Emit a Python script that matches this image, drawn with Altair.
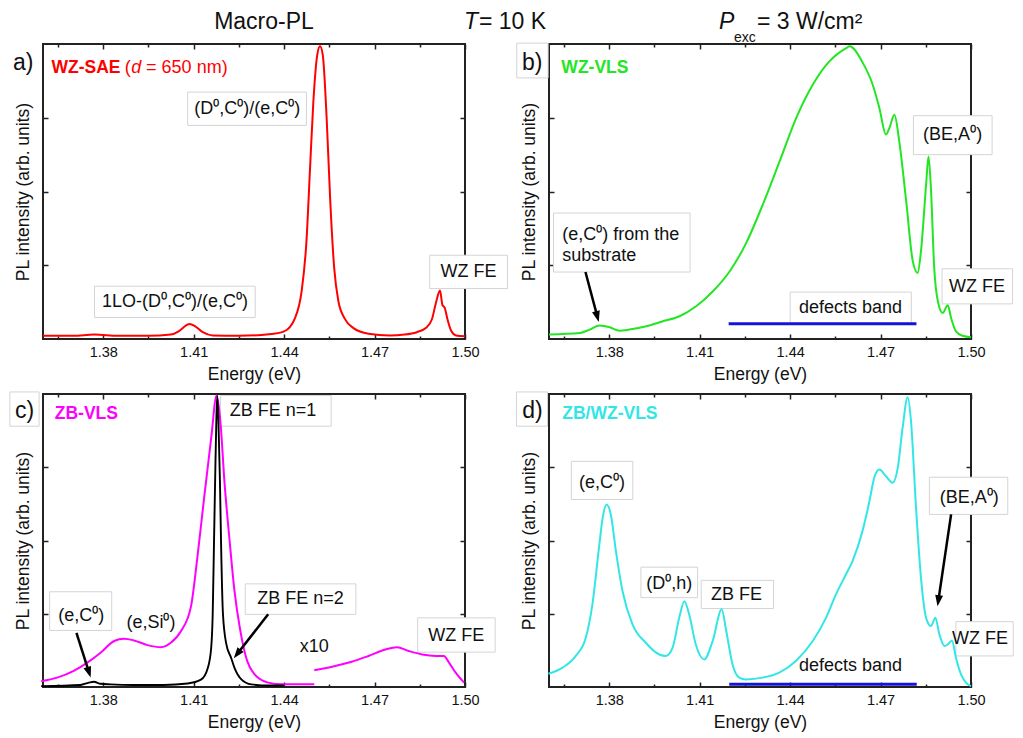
import math
import altair as alt
import pandas as pd

FONT = "Liberation Sans"
W = 422
H_TOP = 295
H_BOT = 293
XDOM = [1.36, 1.50]
YDOM = [0, 100]
X_TICKS = [1.365, 1.38, 1.395, 1.41, 1.425, 1.44, 1.455, 1.47, 1.485, 1.50]
Y_TICKS = [25, 50, 75]
MINOR_TEST = "(round(datum.value * 1000) - 1380) % 30 != 0"

RED = "#ff0000"
GREEN = "#22e622"
MAGENTA = "#ff00ff"
CYAN = "#33e6e6"
BLUE = "#1414d9"
BOXLINE = "#d4d4d4"
INK = "#111111"

# ---------------- panel a : WZ-SAE ----------------
a_energy = [1.360, 1.370, 1.377, 1.385, 1.395, 1.4024, 1.405, 1.4075, 1.4086, 1.4105,
            1.413, 1.4163, 1.425, 1.435, 1.440, 1.4436, 1.4458, 1.4474, 1.4486, 1.4497,
            1.451, 1.4519, 1.4528, 1.4541, 1.4553, 1.4566, 1.458, 1.460, 1.463, 1.468,
            1.475, 1.480, 1.484, 1.487, 1.489, 1.4905, 1.4917, 1.4925, 1.4933, 1.4942,
            1.4955, 1.497, 1.500]
a_intensity = [1.1, 1.1, 1.5, 1.1, 1.1, 1.5, 2.6, 4.6, 5.1, 4.3,
               2.3, 1.2, 1.1, 1.6, 2.6, 7.1, 16.2, 33.1, 58.0, 80.6,
               96.4, 99.2, 96.4, 74.9, 46.7, 24.1, 12.8, 7.1, 3.7, 1.8,
               1.2, 1.5, 2.3, 3.7, 6.6, 12.8, 16.4, 11.6, 10.5, 6.6,
               2.6, 1.2, 0.9]
a_text = ["(D⁰,C⁰)/(e,C⁰)", "1LO-(D⁰,C⁰)/(e,C⁰)", "WZ FE"]
a_text_x = [1.4278, 1.4038, 1.5012]
a_text_y = [78.0, 12.4, 22.6]
a_box_x1 = [1.4080, 1.3771, 1.4883]
a_box_x2 = [1.4474, 1.4304, 1.5141]
a_box_y1 = [72.4, 7.3, 17.1]
a_box_y2 = [83.7, 17.9, 28.4]

# ---------------- panel b : WZ-VLS ----------------
b_energy = [1.3600, 1.3702, 1.3735, 1.3768, 1.3801, 1.3834, 1.3867, 1.3923, 1.3978, 1.4033,
            1.4088, 1.4144, 1.4199, 1.4254, 1.4309, 1.4365, 1.4420, 1.4475, 1.4530, 1.4586,
            1.4597, 1.4641, 1.4674, 1.4696, 1.4718, 1.4729, 1.4746, 1.4762, 1.4785, 1.4807,
            1.4823, 1.4834, 1.4851, 1.4859, 1.4867, 1.4878, 1.4890, 1.4906, 1.4923, 1.4934,
            1.4950, 1.4972, 1.5000]
b_intensity = [1.5, 2.0, 3.2, 4.6, 4.0, 2.8, 3.2, 4.3, 6.0, 7.7,
               11.1, 16.2, 22.9, 32.5, 45.5, 60.2, 74.9, 86.2, 94.1, 98.6,
               99.2, 93.6, 86.2, 78.3, 69.3, 71.5, 76.0, 67.0, 46.7, 26.3,
               22.4, 29.7, 52.3, 61.9, 51.2, 24.1, 12.8, 8.8, 11.4, 7.1,
               2.6, 1.1, 0.6]
b_text = ["(BE,A⁰)", "WZ FE", "defects band"]
b_text_x = [1.4939, 1.5020, 1.4600]
b_text_y = [69.3, 17.6, 10.4]
b_left_text = ["(e,C⁰) from the", "substrate"]
b_left_x = [1.3644, 1.3644]
b_left_y = [35.4, 28.0]
b_box_x1 = [1.3493, 1.3615, 1.4809, 1.4904, 1.4400]
b_box_x2 = [1.3597, 1.4068, 1.5070, 1.5138, 1.4802]
b_box_y1 = [88.5, 22.7, 62.5, 11.9, 5.4]
b_box_y2 = [100.3, 42.7, 75.7, 23.8, 15.9]
b_band_x = [1.4196, 1.4819]
b_band_y = [5.2, 5.2]
b_arrow = [[1.3721, 22.7, 1.3765, 5.8]]

# ---------------- panel c : ZB-VLS ----------------
c_mag_energy = [1.3594, 1.3647, 1.3702, 1.3747, 1.3791, 1.3836, 1.3869, 1.3902, 1.3947, 1.3991,
                1.4024, 1.4058, 1.4091, 1.4113, 1.4135, 1.4158, 1.4176, 1.4189, 1.4202, 1.4219,
                1.4235, 1.4255, 1.4277, 1.4302, 1.4347, 1.4391, 1.4450, 1.4500]
c_mag_intensity = [2.0, 3.2, 5.5, 8.3, 11.7, 15.7, 16.5, 15.9, 14.3, 13.6,
                   15.1, 19.1, 27.5, 45.0, 65.0, 85.0, 99.5, 90.0, 70.0, 50.0,
                   33.0, 19.0, 9.0, 4.3, 1.5, 0.9, 0.9, 0.9]
c_x10_energy = [1.4500, 1.4569, 1.4624, 1.4680, 1.4736, 1.4774, 1.4813, 1.4858, 1.4902, 1.4930,
                1.4947, 1.4969, 1.4997]
c_x10_intensity = [5.7, 7.2, 8.6, 10.6, 12.8, 13.6, 12.3, 11.1, 10.6, 10.6,
                   8.3, 4.9, 1.5]
c_blk_energy = [1.3594, 1.3724, 1.3752, 1.3769, 1.3791, 1.3824, 1.3900, 1.4000, 1.4080, 1.4124,
                1.4147, 1.4158, 1.4163, 1.4167, 1.4171, 1.4175, 1.4178, 1.4182, 1.4187, 1.4191,
                1.4197, 1.4208, 1.4224, 1.4235, 1.4258, 1.4291, 1.4350, 1.4400]
c_blk_intensity = [0.3, 0.7, 1.5, 1.8, 1.1, 0.9, 0.7, 0.7, 1.2, 2.5,
                   6.6, 13.4, 24.9, 47.6, 70.3, 90.8, 99.3, 90.8, 70.3, 47.6,
                   24.9, 14.7, 10.0, 6.6, 2.6, 0.9, 0.5, 0.5]
c_text = ["ZB FE n=1", "ZB FE n=2", "(e,C⁰)", "(e,Si⁰)", "x10", "WZ FE"]
c_text_x = [1.4363, 1.4454, 1.3727, 1.3958, 1.4500, 1.4971]
c_text_y = [94.1, 29.9, 24.4, 21.9, 13.6, 17.4]
c_box_x1 = [1.3490, 1.4189, 1.4271, 1.3622, 1.4843]
c_box_x2 = [1.3587, 1.4556, 1.4638, 1.3828, 1.5100]
c_box_y1 = [89.0, 89.0, 24.8, 19.3, 11.9]
c_box_y2 = [100.7, 99.5, 35.2, 32.5, 23.6]
c_arrow = [[1.3711, 18.5, 1.3758, 3.2], [1.4347, 24.8, 1.4233, 9.8]]

# ---------------- panel d : ZB/WZ-VLS ----------------
d_energy = [1.3598, 1.3645, 1.3689, 1.3722, 1.3744, 1.3767, 1.3778, 1.3791, 1.3805, 1.3822,
            1.3844, 1.3877, 1.3921, 1.3966, 1.3988, 1.4010, 1.4032, 1.4049, 1.4065, 1.4087,
            1.4115, 1.4143, 1.4173, 1.4188, 1.4209, 1.4231, 1.4253, 1.4309, 1.4364, 1.4419,
            1.4475, 1.4519, 1.4552, 1.4585, 1.4607, 1.4640, 1.4663, 1.4679, 1.4696, 1.4718,
            1.4740, 1.4757, 1.4773, 1.4790, 1.4801, 1.4817, 1.4834, 1.4851, 1.4867, 1.4882,
            1.4895, 1.4912, 1.4923, 1.4937, 1.4950, 1.4967, 1.4983, 1.5000]
d_intensity = [4.5, 6.6, 10.6, 16.8, 28.2, 48.6, 57.7, 62.3, 58.9, 46.4,
               32.7, 21.4, 15.1, 11.1, 10.6, 13.4, 23.6, 29.3, 24.8, 14.5,
               9.4, 15.7, 26.5, 19.1, 7.7, 3.2, 2.6, 3.2, 4.9, 8.9,
               15.7, 23.6, 31.6, 38.4, 43.0, 53.2, 63.4, 71.4, 74.2, 71.9,
               69.7, 74.8, 88.4, 98.9, 90.7, 62.3, 37.3, 23.6, 20.8, 23.6,
               18.0, 14.0, 14.5, 15.9, 10.0, 4.3, 1.5, 0.3]
d_text = ["(e,C⁰)", "(D⁰,h)", "ZB FE", "(BE,A⁰)", "WZ FE", "defects band"]
d_text_x = [1.3776, 1.3999, 1.4222, 1.4994, 1.5030, 1.4600]
d_text_y = [69.7, 35.0, 31.4, 64.5, 16.3, 7.2]
d_box_x1 = [1.3492, 1.3674, 1.3905, 1.4105, 1.4862, 1.4950]
d_box_x2 = [1.3595, 1.3878, 1.4093, 1.4345, 1.5122, 1.5140]
d_box_y1 = [89.0, 64.0, 30.5, 26.8, 58.9, 10.6]
d_box_y2 = [100.7, 77.0, 40.9, 36.4, 71.6, 22.3]
d_band_x = [1.4198, 1.4820]
d_band_y = [0.9, 0.9]
d_arrow = [[1.4934, 58.9, 1.4889, 27.6]]

# panel tags and sample names
tag_text = ["a)", "b)", "c)", "d)"]
tag_x = [1.3534, 1.3544, 1.3539, 1.3545]
tag_y = [93.6, 93.6, 94.2, 94.2]
name_text = ["WZ-SAE", "WZ-VLS", "ZB-VLS", "ZB/WZ-VLS"]
name_x = [1.3628, 1.3641, 1.3639, 1.3644]
name_y = [91.7, 91.9, 93.1, 93.1]
a_sub_text = ["(", "d", "= 650 nm)"]
a_sub_x = [1.3871, 1.3893, 1.3942]


def xs(field, axis=None):
    return alt.X(f"{field}:Q", scale=alt.Scale(domain=XDOM, nice=False, zero=False), axis=axis)


def ys(field, axis=None):
    return alt.Y(f"{field}:Q", scale=alt.Scale(domain=YDOM, nice=False, zero=False), axis=axis)


TICK_DASH = {"condition": {"test": MINOR_TEST, "value": [0, 2, 3, 20]}, "value": []}

AX_BOTTOM = alt.Axis(orient="bottom", values=X_TICKS, title="Energy (eV)", domain=False, grid=False,
                     offset=-5, tickSize=5, tickWidth=1.5, tickColor="#222222", tickDash=TICK_DASH,
                     labelExpr=f"{MINOR_TEST} ? '' : format(datum.value, '.2f')",
                     labelFontSize=14.5, labelPadding=6, labelColor=INK, labelFlush=False,
                     labelOverlap=False, titleFontSize=17.5, titleFontWeight="normal",
                     titlePadding=7, titleColor=INK)
AX_TOP = alt.Axis(orient="top", values=X_TICKS, labels=False, title=None, domain=False, grid=False,
                  offset=-5, tickSize=5, tickWidth=1.5, tickColor="#222222", tickDash=TICK_DASH)
AX_LEFT = alt.Axis(orient="left", values=Y_TICKS, labels=False, title="PL intensity (arb. units)",
                   domain=False, grid=False, offset=-5, tickSize=5, tickWidth=1.5, tickColor="#222222",
                   titleFontSize=17.5, titleFontWeight="normal", titlePadding=10, titleColor=INK)
AX_RIGHT = alt.Axis(orient="right", values=Y_TICKS, labels=False, title=None, domain=False,
                    grid=False, offset=-5, tickSize=5, tickWidth=1.5, tickColor="#222222")


def curve(energy, intensity, color, width=2.0, axes=False):
    df = pd.DataFrame({"E": energy, "I": intensity})
    enc_x = xs("E", AX_BOTTOM if axes else None)
    enc_y = ys("I", AX_LEFT if axes else None)
    return alt.Chart(df).mark_line(color=color, strokeWidth=width, interpolate="monotone").encode(x=enc_x, y=enc_y)


def helper_axes(energy, intensity):
    df = pd.DataFrame({"E": energy, "I": intensity})
    return alt.Chart(df).mark_line(opacity=0).encode(x=xs("E", AX_TOP), y=ys("I", AX_RIGHT))


def boxes(x1, x2, y1, y2):
    df = pd.DataFrame({"x1": x1, "x2": x2, "y1": y1, "y2": y2})
    return alt.Chart(df).mark_rect(fill="white", stroke=BOXLINE, strokeWidth=1).encode(
        x=xs("x1"), x2="x2:Q", y=ys("y1"), y2="y2:Q")


def texts(labels, x, y, size=18, align="center", weight="normal", style="normal", color=INK):
    df = pd.DataFrame({"t": labels, "E": x, "I": y})
    return alt.Chart(df).mark_text(font=FONT, fontSize=size, align=align, baseline="middle",
                                   fontWeight=weight, fontStyle=style, color=color).encode(
        x=xs("E"), y=ys("I"), text="t:N")


def band(x, y):
    df = pd.DataFrame({"x1": [x[0]], "x2": [x[1]], "y": [y[0]]})
    return alt.Chart(df).mark_rule(color=BLUE, strokeWidth=3).encode(x=xs("x1"), x2="x2:Q", y=ys("y"))


def arrows(spec, height):
    px_x = W / (XDOM[1] - XDOM[0])
    px_y = height / (YDOM[1] - YDOM[0])
    rows = []
    for x1, y1, x2, y2 in spec:
        dx = (x2 - x1) * px_x
        dy = -(y2 - y1) * px_y
        L = math.hypot(dx, dy)
        ang = math.degrees(math.atan2(-dx, dy)) % 360
        f = max(0.0, 1 - 8.0 / L)
        rows.append({"x1": x1, "y1": y1, "xe": x1 + (x2 - x1) * f, "ye": y1 + (y2 - y1) * f,
                     "x2": x2, "y2": y2, "ang": ang})
    df = pd.DataFrame(rows)
    shaft = alt.Chart(df).mark_rule(color="black", strokeWidth=2.5).encode(
        x=xs("x1"), y=ys("y1"), x2="xe:Q", y2="ye:Q")
    head = alt.Chart(df).mark_point(shape="M0,0L-0.36,-1L0.36,-1Z", filled=True, color="black",
                                    opacity=1, size=484, strokeWidth=0).encode(
        x=xs("x2"), y=ys("y2"), angle=alt.Angle("ang:Q", scale=None))
    return [shaft, head]


def pix_text(txt, x, y, size, align="left", style="normal"):
    df = pd.DataFrame({"t": [txt]})
    return alt.Chart(df).mark_text(font=FONT, fontSize=size, align=align, baseline="middle",
                                   fontStyle=style, color=INK).encode(
        x=alt.value(x), y=alt.value(y), text="t:N")


def finish(layers, height):
    return alt.layer(*layers).resolve_axis(x="independent", y="independent").properties(
        width=W, height=height)


pa = finish([
    boxes(a_box_x1, a_box_x2, a_box_y1, a_box_y2),
    curve(a_energy, a_intensity, RED, axes=True),
    helper_axes(a_energy, a_intensity),
    texts(a_text, a_text_x, a_text_y),
    texts([tag_text[0]], [tag_x[0]], [tag_y[0]], size=23),
    texts([name_text[0]], [name_x[0]], [name_y[0]], size=17.5, align="left", weight="bold", color=RED),
    texts([a_sub_text[0]], [a_sub_x[0]], [name_y[0]], size=18, align="left", color=RED),
    texts([a_sub_text[1]], [a_sub_x[1]], [name_y[0]], size=18, align="left", style="italic", color=RED),
    texts([a_sub_text[2]], [a_sub_x[2]], [name_y[0]], size=18, align="left", color=RED),
    pix_text("Macro-PL", 221, -22, 23, align="center"),
    pix_text("T", 421, -22, 23, style="italic"),
    pix_text("= 10 K", 436, -22, 23),
], H_TOP)

pb = finish([
    boxes(b_box_x1, b_box_x2, b_box_y1, b_box_y2),
    band(b_band_x, b_band_y),
    curve(b_energy, b_intensity, GREEN, axes=True),
    helper_axes(b_energy, b_intensity),
    *arrows(b_arrow, H_TOP),
    texts(b_text, b_text_x, b_text_y),
    texts(b_left_text, b_left_x, b_left_y, align="left"),
    texts([tag_text[1]], [tag_x[1]], [tag_y[1]], size=23),
    texts([name_text[1]], [name_x[1]], [name_y[1]], size=17.5, align="left", weight="bold", color=GREEN),
    pix_text("P", 170, -22, 23, style="italic"),
    pix_text("exc", 185, -6, 14),
    pix_text("= 3 W/cm²", 208, -22, 23),
], H_TOP)

pc = finish([
    boxes(c_box_x1, c_box_x2, c_box_y1, c_box_y2),
    curve(c_mag_energy, c_mag_intensity, MAGENTA),
    curve(c_x10_energy, c_x10_intensity, MAGENTA),
    curve(c_blk_energy, c_blk_intensity, "black", width=1.9, axes=True),
    helper_axes(c_blk_energy, c_blk_intensity),
    *arrows(c_arrow, H_BOT),
    texts(c_text, c_text_x, c_text_y),
    texts([tag_text[2]], [tag_x[2]], [tag_y[2]], size=23),
    texts([name_text[2]], [name_x[2]], [name_y[2]], size=17.5, align="left", weight="bold", color=MAGENTA),
], H_BOT)

pd_ = finish([
    boxes(d_box_x1, d_box_x2, d_box_y1, d_box_y2),
    band(d_band_x, d_band_y),
    curve(d_energy, d_intensity, CYAN, axes=True),
    helper_axes(d_energy, d_intensity),
    *arrows(d_arrow, H_BOT),
    texts(d_text, d_text_x, d_text_y),
    texts([tag_text[3]], [tag_x[3]], [tag_y[3]], size=23),
    texts([name_text[3]], [name_x[3]], [name_y[3]], size=17.5, align="left", weight="bold", color=CYAN),
], H_BOT)

chart = alt.concat(pa, pb, pc, pd_, columns=2, spacing={"row": 55, "column": 84},
                   bounds="flush").properties(
    padding={"left": 0, "top": 2, "right": 0, "bottom": 0}, background="white"
).configure(font=FONT).configure_view(stroke="#222222", strokeWidth=2)

chart.save("out.html", embed_options={"renderer": "svg", "actions": False})
